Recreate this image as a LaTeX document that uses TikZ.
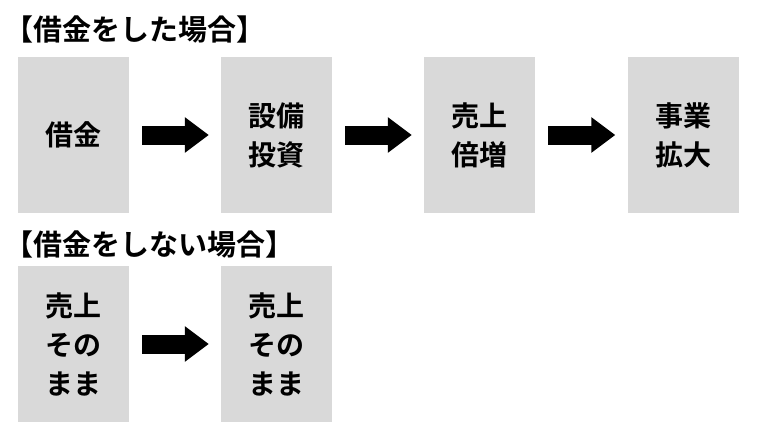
\documentclass[tikz,border=0pt]{standalone}
\usepackage{fontspec}
\newfontfamily\jpfont{Noto Sans CJK JP}[BoldFont=* Bold]
\usetikzlibrary{arrows.meta}
\definecolor{boxgray}{HTML}{D9D9D9}
\tikzset{
  stagebox/.style={fill=boxgray, draw=none, minimum width=111pt, minimum height=156pt, inner sep=0pt, align=center, font=\jpfont\bfseries\fontsize{28}{39}\selectfont},
  titletext/.style={anchor=base west, inner sep=0pt, font=\jpfont\bfseries\fontsize{29}{34}\selectfont},
  blockarrow/.style={line width=19pt, -{Triangle[width=34pt,length=24pt]}, shorten <=13pt, shorten >=12pt}
}
\begin{document}
\begin{tikzpicture}[x=1pt,y=-1pt]
\useasboundingbox[fill=white] (0,0) rectangle (768,437);
\node[titletext] (t1) at (4,40) {【借金をした場合】};
\node[stagebox] (a1) at (73.5,135) {借金};
\node[stagebox] (a2) at (276.5,135) {設備\\投資};
\node[stagebox] (a3) at (479.5,135) {売上\\倍増};
\node[stagebox] (a4) at (683,135) {事業\\拡大};
\draw[blockarrow] (a1) -- (a2);
\draw[blockarrow] (a2) -- (a3);
\draw[blockarrow] (a3) -- (a4);
\node[titletext] (t2) at (4,255) {【借金をしない場合】};
\node[stagebox] (b1) at (73.5,344) {売上\\その\\まま};
\node[stagebox] (b2) at (276.5,344) {売上\\その\\まま};
\draw[blockarrow] (b1) -- (b2);
\end{tikzpicture}
\end{document}
